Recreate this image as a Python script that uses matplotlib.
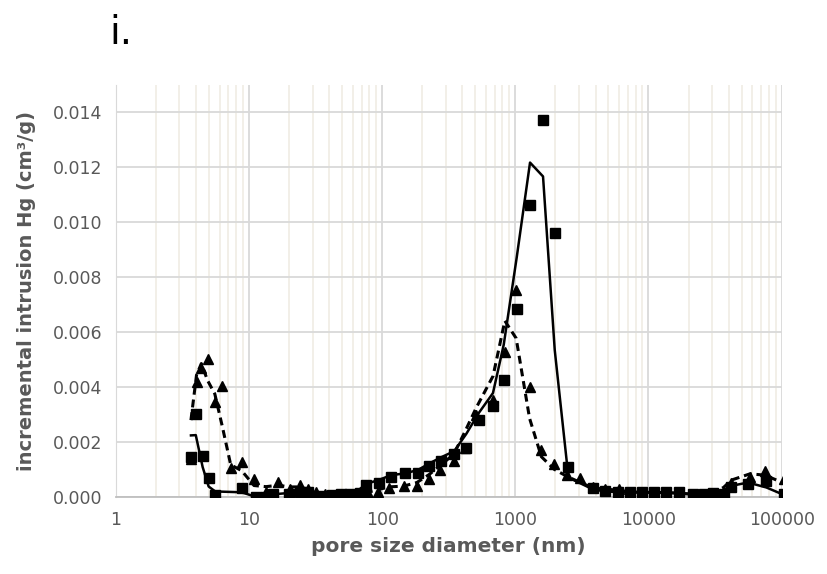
import numpy as np
import matplotlib.pyplot as plt
from matplotlib.ticker import FixedLocator, NullFormatter, FuncFormatter

plt.rcParams['font.family'] = ['DejaVu Sans']

# series 1 (squares) - pore diameter (nm) / incremental intrusion (cm3/g)
sq_x = [3.66, 3.98, 4.48, 4.97, 5.57, 8.8, 11.2, 13.3, 15.2, 19.9, 24, 27.5, 34, 42,
        49, 57, 68, 76, 95, 117, 148, 186, 226, 276, 347, 428, 532, 679, 818, 1024,
        1289, 1614, 1976, 2506, 3850, 4690, 5870, 7300, 8870, 11000, 13600, 16900,
        21500, 26100, 30400, 36600, 42000, 55900, 76800, 105000, 140000]
sq_y = [0.00147, 0.00302, 0.00149, 0.00070, 0.00007, 0.00034, 0.00001, 0.00001,
        0.00010, 0.00010, 0.00020, 0.00018, 0.00003, 0.00008, 0.00012, 0.00012,
        0.00015, 0.00044, 0.00052, 0.00074, 0.00086, 0.00086, 0.00112, 0.00133,
        0.00156, 0.00178, 0.00282, 0.00331, 0.00426, 0.00683, 0.01062, 0.01373,
        0.00961, 0.00110, 0.00032, 0.00023, 0.00019, 0.00017, 0.00017, 0.00017,
        0.00017, 0.00017, 0.00013, 0.00010, 0.00015, 0.00010, 0.00036, 0.00046,
        0.00060, 0.00010, 0.00004]

# series 2 (triangles)
tr_x = [3.66, 4.03, 4.38, 4.88, 5.53, 6.30, 7.28, 8.8, 10.9, 13.4, 16.6, 20.2, 24.1,
        27.8, 32, 37, 43, 50, 58, 67, 78, 93, 112, 145, 182, 225, 273, 345, 420, 510,
        680, 834, 1014, 1279, 1568, 1960, 2450, 3050, 3850, 4700, 6000, 7300, 8900,
        11000, 13600, 16900, 21500, 26100, 30400, 36600, 42000, 57800, 74500, 105000,
        140000]
tr_y = [0.00140, 0.00420, 0.00468, 0.00504, 0.00345, 0.00406, 0.00107, 0.00128,
        0.00064, 0.00020, 0.00056, 0.00030, 0.00044, 0.00030, 0.00020, 0.00010,
        0.00008, 0.00008, 0.00010, 0.00012, 0.00015, 0.00020, 0.00034, 0.00040,
        0.00040, 0.00066, 0.00098, 0.00132, 0.00180, 0.00300, 0.00353, 0.00528,
        0.00755, 0.00401, 0.00172, 0.00122, 0.00080, 0.00070, 0.00038, 0.00028,
        0.00030, 0.00020, 0.00018, 0.00017, 0.00017, 0.00015, 0.00012, 0.00008,
        0.00012, 0.00020, 0.00050, 0.00074, 0.00095, 0.00065, 0.00035]

x_ticks = [1, 10, 100, 1000, 10000, 100000]
y_ticks = [0.000, 0.002, 0.004, 0.006, 0.008, 0.010, 0.012, 0.014]

sq_x, sq_y = np.array(sq_x), np.array(sq_y)
tr_x, tr_y = np.array(tr_x), np.array(tr_y)

fig = plt.figure(figsize=(8.28, 5.74), dpi=100)
ax = fig.add_axes([0.140, 0.134, 0.804, 0.718])

# 2-period moving average trendlines (as Excel draws them)
ax.plot(sq_x[:-1], (sq_y[:-1] + sq_y[1:]) / 2, color='black', lw=1.8, zorder=3)
ax.plot(tr_x[:-1], (tr_y[:-1] + tr_y[1:]) / 2, color='black', lw=2.2,
        linestyle=(0, (2.6, 1.6)), zorder=3)

ax.plot(sq_x, sq_y, 's', color='black', ms=6.5, zorder=4)
ax.plot(tr_x, tr_y, '^', color='black', ms=7, zorder=4)

ax.set_xscale('log')
ax.set_xlim(1, 100000)
ax.set_ylim(0, 0.015)
ax.xaxis.set_major_locator(FixedLocator(x_ticks))
ax.xaxis.set_major_formatter(FuncFormatter(lambda v, p: '%d' % v))
ax.xaxis.set_minor_locator(FixedLocator([m * 10 ** d for d in range(5) for m in range(2, 10)]))
ax.xaxis.set_minor_formatter(NullFormatter())
ax.set_yticks(y_ticks)
ax.yaxis.set_major_formatter(FuncFormatter(lambda v, p: '%.3f' % v))

ax.grid(True, which='minor', axis='x', color='#f1eee6', lw=1.3)
ax.grid(True, which='major', axis='x', color='#d9d9d9', lw=1.3)
ax.grid(True, which='major', axis='y', color='#d9d9d9', lw=1.3)
ax.set_axisbelow(True)

ax.tick_params(which='both', length=0, labelsize=12.5, labelcolor='#595959', pad=10)
for s in ['top', 'right']:
    ax.spines[s].set_visible(False)
ax.spines['left'].set_color('#d9d9d9')
ax.spines['bottom'].set_color('#bfbfbf')
ax.spines['bottom'].set_linewidth(1.3)

ax.set_xlabel('pore size diameter (nm)', fontsize=14.5, fontweight='bold', color='#595959', labelpad=6)
ax.set_ylabel('incremental intrusion Hg (cm³/g)', fontsize=14, fontweight='bold', color='#595959', labelpad=12)

fig.text(0.132, 0.943, 'i.', fontsize=28, color='black', ha='left', va='center')

fig.savefig('out.png', dpi=100)
